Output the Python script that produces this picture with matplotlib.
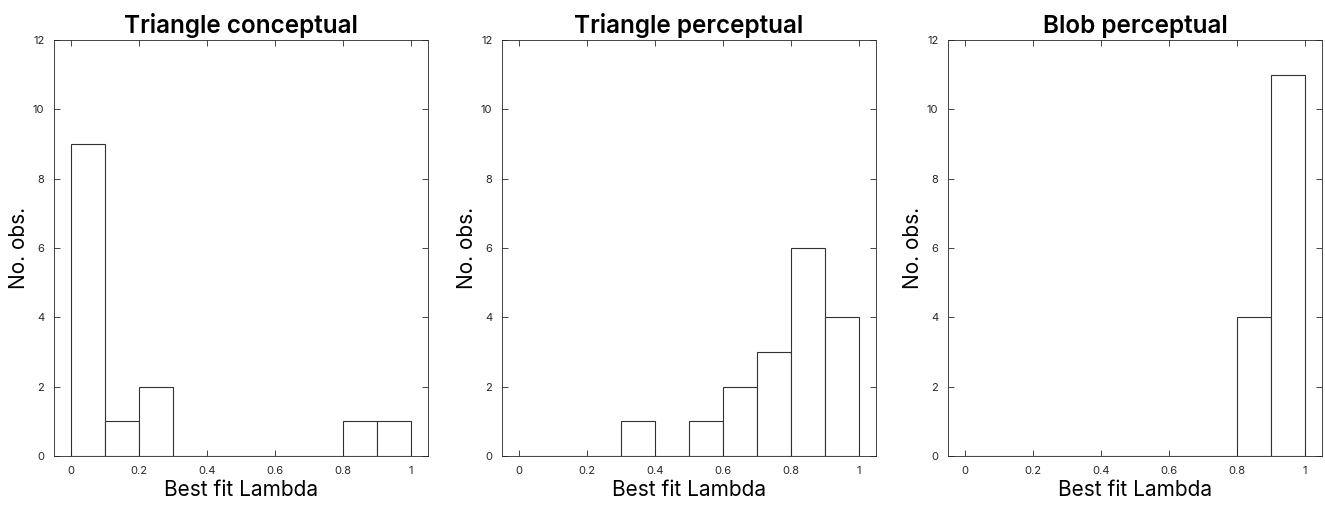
import numpy as np
import matplotlib.pyplot as plt

plt.rcParams['font.family'] = ['Inter', 'DejaVu Sans']

# histogram bins for best-fit lambda
bin_edges = [0.0, 0.1, 0.2, 0.3, 0.4, 0.5, 0.6, 0.7, 0.8, 0.9, 1.0]

titles = ["Triangle conceptual", "Triangle perceptual", "Blob perceptual"]
tri_conceptual = [9, 1, 2, 0, 0, 0, 0, 0, 1, 1]
tri_perceptual = [0, 0, 0, 1, 0, 1, 2, 3, 6, 4]
blob_perceptual = [0, 0, 0, 0, 0, 0, 0, 0, 4, 11]
counts_list = [tri_conceptual, tri_perceptual, blob_perceptual]

xticks = [0, 0.2, 0.4, 0.6, 0.8, 1]
xticklabels = ["0", "0.2", "0.4", "0.6", "0.8", "1"]
yticks = [0, 2, 4, 6, 8, 10, 12]

fig = plt.figure(figsize=(13.25, 5.07), dpi=100)

lefts = [54, 502, 948]
ax_w = 374
for i in range(3):
    ax = fig.add_axes([lefts[i] / 1325, 51 / 507, ax_w / 1325, 416 / 507])
    edges = np.array(bin_edges)
    ax.bar(edges[:-1], counts_list[i], width=np.diff(edges), align='edge',
           facecolor='white', edgecolor='#333333', linewidth=0.8)
    ax.set_xlim(-0.05, 1.05)
    ax.set_ylim(0, 12)
    ax.set_xticks(xticks)
    ax.set_xticklabels(xticklabels)
    ax.set_yticks(yticks)
    ax.tick_params(direction='in', length=4, width=0.6, labelsize=8,
                   colors='#262626', top=True, right=True, pad=7)
    for sp in ax.spines.values():
        sp.set_color('#262626')
        sp.set_linewidth(0.6)
    ax.set_title(titles[i], fontsize=17.5, fontweight='semibold', pad=5)
    ax.set_xlabel("Best fit Lambda", fontsize=15, labelpad=3)
    ax.set_ylabel("No. obs.", fontsize=15, labelpad=3)

fig.savefig("out.png", dpi=100)
